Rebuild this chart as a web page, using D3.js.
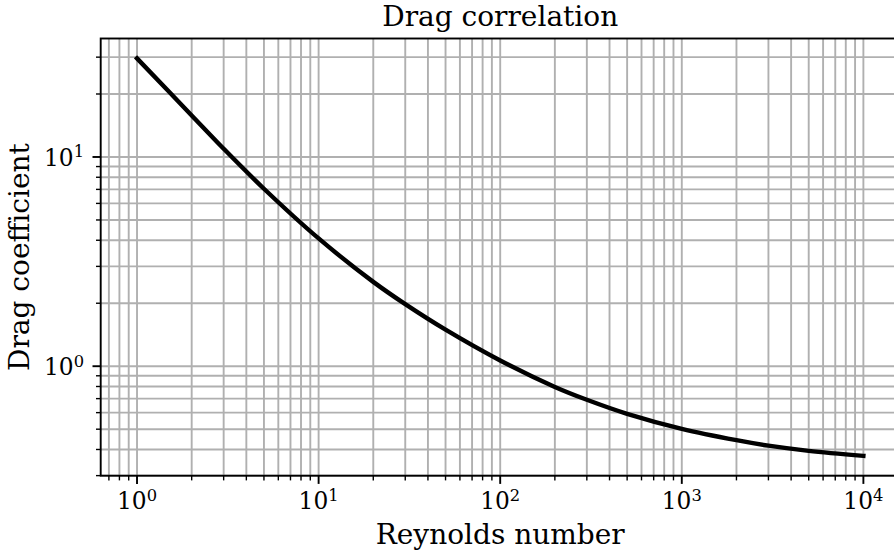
<!DOCTYPE html>
<html>
<head>
<meta charset="utf-8">
<script src="https://cdn.jsdelivr.net/npm/d3@7"></script>
<style>
  body { margin: 0; background: #fff; }
  svg { display: block; font-family: "DejaVu Serif", serif; }
</style>
</head>
<body>
<svg id="chart" width="894" height="554"></svg>
<script>
// values
var reynolds = [1, 2, 3, 5, 10, 20, 30, 50, 100, 200, 300, 500, 1000, 2000, 3000, 5000, 10000];
var dragCoeff = [29.6, 15.8, 10.95, 7.05, 4.08, 2.53, 1.98, 1.495, 1.065, 0.796, 0.691, 0.592, 0.502, 0.443, 0.417, 0.394, 0.373];

var titleText = "Drag correlation",
  xLabelText = "Reynolds number",
  yLabelText = "Drag coefficient";

var svg = d3.select("#chart"),
  plotLeft = 100.7,
  plotRight = 899.7,
  plotTop = 38.5,
  plotBottom = 475.7;

// log axes with matplotlib-like 5% margins
function logPad(arr) {
  var lo = Math.log10(d3.min(arr)),
    hi = Math.log10(d3.max(arr)),
    m = (hi - lo) * 0.05;
  return [Math.pow(10, lo - m), Math.pow(10, hi + m)];
}

var x = d3.scaleLog().domain(logPad(reynolds)).range([plotLeft, plotRight]);
var y = d3.scaleLog().domain(logPad(dragCoeff)).range([plotBottom, plotTop]);

function isMajor(v) {
  return Math.abs(Math.log10(v) - Math.round(Math.log10(v))) < 1e-9;
}

var xt = x.ticks(), yt = y.ticks();

// grid (major + minor)
var grid = svg.append("g").attr("stroke", "#b0b0b0").attr("stroke-width", 1.9);
grid.selectAll(".gx").data(xt).enter().append("line")
  .attr("x1", function (d) { return x(d); })
  .attr("x2", function (d) { return x(d); })
  .attr("y1", plotTop).attr("y2", plotBottom);
grid.selectAll(".gy").data(yt).enter().append("line")
  .attr("y1", function (d) { return y(d); })
  .attr("y2", function (d) { return y(d); })
  .attr("x1", plotLeft).attr("x2", plotRight);

// the curve
var line = d3.line()
  .x(function (d, i) { return x(reynolds[i]); })
  .y(function (d) { return y(d); })
  .curve(d3.curveCatmullRom.alpha(0.5));

svg.append("path")
  .datum(dragCoeff)
  .attr("fill", "none")
  .attr("stroke", "#000")
  .attr("stroke-width", 4.4)
  .attr("stroke-linecap", "square")
  .attr("d", line);

// ticks
var ticks = svg.append("g").attr("stroke", "#000");
ticks.selectAll(".tx").data(xt).enter().append("line")
  .attr("x1", function (d) { return x(d); })
  .attr("x2", function (d) { return x(d); })
  .attr("y1", plotBottom)
  .attr("y2", function (d) { return plotBottom + (isMajor(d) ? 8.2 : 4.7); })
  .attr("stroke-width", function (d) { return isMajor(d) ? 1.9 : 1.4; });
ticks.selectAll(".ty").data(yt).enter().append("line")
  .attr("y1", function (d) { return y(d); })
  .attr("y2", function (d) { return y(d); })
  .attr("x1", plotLeft)
  .attr("x2", function (d) { return plotLeft - (isMajor(d) ? 8.2 : 4.7); })
  .attr("stroke-width", function (d) { return isMajor(d) ? 1.9 : 1.4; });

// spines (right one falls outside the picture)
svg.append("rect")
  .attr("x", plotLeft).attr("y", plotTop)
  .attr("width", plotRight - plotLeft).attr("height", plotBottom - plotTop)
  .attr("fill", "none").attr("stroke", "#000").attr("stroke-width", 1.9);

// tick labels as 10^k
function powLabel(sel, v) {
  sel.append("tspan").text("10");
  sel.append("tspan")
    .attr("font-size", "16.3px")
    .attr("dy", -8.3)
    .text(Math.round(Math.log10(v)));
}

svg.selectAll(".lx").data(xt.filter(isMajor)).enter().append("text")
  .attr("x", function (d) { return x(d); })
  .attr("y", 509)
  .attr("text-anchor", "middle")
  .attr("font-size", "23.3px")
  .each(function (d) { powLabel(d3.select(this), d); });

svg.selectAll(".ly").data(yt.filter(isMajor)).enter().append("text")
  .attr("x", 84)
  .attr("y", function (d) { return y(d) + 8.6; })
  .attr("text-anchor", "end")
  .attr("font-size", "23.3px")
  .each(function (d) { powLabel(d3.select(this), d); });

// title and axis labels
svg.append("text")
  .attr("x", (plotLeft + plotRight) / 2).attr("y", 26)
  .attr("text-anchor", "middle").attr("font-size", "28px")
  .text(titleText);

svg.append("text")
  .attr("x", (plotLeft + plotRight) / 2).attr("y", 543.5)
  .attr("text-anchor", "middle").attr("font-size", "28px")
  .text(xLabelText);

svg.append("text")
  .attr("transform", "translate(28.5," + (plotTop + plotBottom) / 2 + ") rotate(-90)")
  .attr("text-anchor", "middle").attr("font-size", "28px")
  .text(yLabelText);
</script>
</body>
</html>
